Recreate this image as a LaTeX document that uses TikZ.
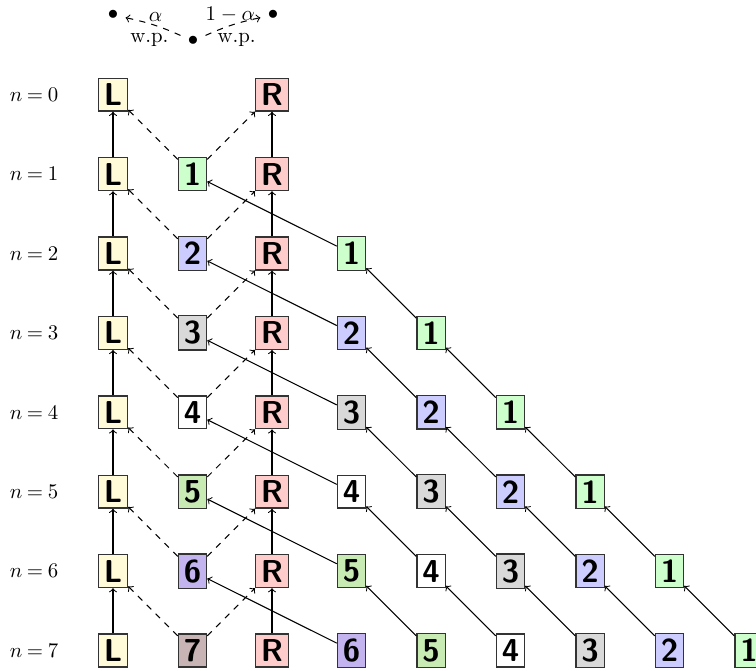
\documentclass[tikz,border=0pt]{standalone}
\definecolor{cL}{RGB}{255,250,215}
\definecolor{cR}{RGB}{255,204,204}
\definecolor{c1}{RGB}{204,255,204}
\definecolor{c2}{RGB}{204,204,255}
\definecolor{c3}{RGB}{217,217,217}
\definecolor{c4}{RGB}{255,255,255}
\definecolor{c5}{RGB}{200,235,180}
\definecolor{c6}{RGB}{195,180,240}
\definecolor{c7}{RGB}{200,180,180}
\tikzset{
  box/.style={draw=black!80, line width=0.6pt, font=\fontsize{15.2}{18}\selectfont\sffamily\bfseries, inner sep=2.6pt},
  conn/.style={->, line width=0.5pt},
  dconn/.style={->, dashed, line width=0.5pt},
}
\begin{document}
\begin{tikzpicture}[x=0.48pt,y=-0.48pt]
\path[use as bounding box] (0,0) rectangle (756,670);
% legend
\node (dL) at (113,15) {$\bullet$};
\node (dM) at (193,41) {$\bullet$};
\node (dR) at (273,15) {$\bullet$};
\draw[dconn] (dM) to[bend right=6] node[above,inner sep=1.2pt,xshift=1pt]{$\alpha$} node[below,inner sep=4pt,xshift=-2pt]{w.p.} (dL);
\draw[dconn] (dM) to[bend left=6] node[above,inner sep=1.2pt,xshift=-1pt]{$1-\alpha$} node[below,inner sep=4pt,xshift=2pt]{w.p.} (dR);
% columns L, R and labels
\foreach \n in {0,...,7} {
  \node[box, fill=cL] (L\n) at (113, {94.7+79.4*\n}) {L};
  \node[box, fill=cR] (R\n) at (272, {94.7+79.4*\n}) {R};
  \node (lab\n) at (34, {94.7+79.4*\n}) {$n\:{=}\:\n$};
}
% middle column
\foreach \n in {1,...,7} {
  \node[box, fill=c\n] (M\n) at (192.5, {94.7+79.4*\n}) {\n};
}
% triangle
\foreach \n in {2,...,7} {
  \pgfmathtruncatemacro\nm{\n-1}
  \foreach \j in {1,...,\nm} {
    \pgfmathtruncatemacro\v{\n-\j}
    \node[box, fill=c\v] (T\n-\j) at ({113+79.5*(2+\j)}, {94.7+79.4*\n}) {\v};
  }
}
% connectors
\foreach \n in {1,...,7} {
  \pgfmathtruncatemacro\p{\n-1}
  \draw[conn] (L\n) -- (L\p);
  \draw[conn] (R\n) -- (R\p);
  \draw[dconn] (M\n) -- (L\p);
  \draw[dconn] (M\n) -- (R\p);
}
\foreach \n in {2,...,7} {
  \pgfmathtruncatemacro\p{\n-1}
  \draw[conn] (T\n-1) -- (M\p);
}
\foreach \n in {3,...,7} {
  \pgfmathtruncatemacro\p{\n-1}
  \foreach \j in {2,...,\p} {
    \pgfmathtruncatemacro\jm{\j-1}
    \draw[conn] (T\n-\j) -- (T\p-\jm);
  }
}
\end{tikzpicture}
\end{document}
